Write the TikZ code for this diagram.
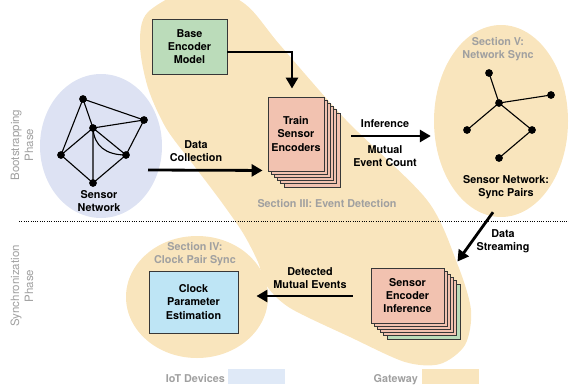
\documentclass[tikz,border=0pt]{standalone}
\usepackage{fontspec}
\setmainfont{TeX Gyre Heros}
\usetikzlibrary{calc}
\usetikzlibrary{arrows.meta}
\usetikzlibrary{shapes.geometric}

\definecolor{gatewaybg}{RGB}{249,229,189}
\definecolor{iotbg}{RGB}{221,226,243}
\definecolor{iotkey}{RGB}{223,233,247}
\definecolor{basegreen}{RGB}{187,220,186}
\definecolor{encpink}{RGB}{242,194,176}
\definecolor{clockblue}{RGB}{190,229,245}
\definecolor{secgray}{RGB}{160,160,160}
\definecolor{boxline}{RGB}{55,55,55}

\tikzset{
  lbl/.style={font=\fontsize{10.8}{13.3}\selectfont\bfseries, align=center, inner sep=0pt},
  seclbl/.style={lbl, text=secgray},
  phaselbl/.style={font=\fontsize{11.5}{14}\selectfont, text=secgray, align=center, rotate=90, inner sep=0pt},
  blk/.style={lbl, draw=boxline, line width=0.9pt},
  flow/.style={line width=2.8pt, -{Triangle[length=11pt,width=12pt]}},
  zone/.style={ellipse, inner sep=0pt},
}

\begin{document}
\begin{tikzpicture}[x=1pt, y=-1pt]
\useasboundingbox (0,0) rectangle (569,389);
\clip (0,0) rectangle (569,389);

% gateway region
\fill[gatewaybg] plot[smooth cycle] coordinates {
  (200,-14) (245,4) (280,45) (346,120) (427,200) (457,263) (471,310)
  (465,345) (440,364) (405,362) (350,337) (290,308) (266,285) (258,262)
  (243,233) (220,200) (192,163) (166,128) (148,88) (140,45) (148,12)};

\node[zone, fill=iotbg, minimum width=122pt, minimum height=144pt] (iot) at (101,146) {};
\node[zone, fill=gatewaybg, minimum width=134pt, minimum height=192pt] (sync) at (501,121) {};
\node[zone, fill=gatewaybg, minimum width=142pt, minimum height=122pt] (pair) at (197,297) {};

% phase separator
\draw[line width=1pt, dash pattern=on 1pt off 1.3pt] (19,221) -- (569,221);

\node[phaselbl] (boot) at (22,145) {Bootstrapping\\Phase};
\node[phaselbl] (synph) at (22,286) {Synchronization\\Phase};

% sensor network
\coordinate (n1) at (83,99);
\coordinate (n2) at (144,120);
\coordinate (n3) at (93,128);
\coordinate (n4) at (61,155);
\coordinate (n5) at (126,155);
\coordinate (n6) at (93,183);
\draw[line width=1.1pt] (n1) -- (n2) -- (n3) -- (n1) -- (n4) -- (n3) -- (n6) -- (n4);
\draw[line width=1.1pt] (n6) -- (n5) -- (n2);
\draw[line width=1.1pt] (n3) -- (n5);
\draw[line width=1.1pt] (n3) .. controls (94,146) and (106,155) .. (n5);
\foreach \n in {n1,n2,n3,n4,n5,n6}
  \filldraw[black] (\n) circle (3.6);
\node[lbl] (sensnet) at (99,201) {Sensor\\Network};

% sync pairs tree
\coordinate (t1) at (489,73);
\coordinate (t2) at (499,103);
\coordinate (t3) at (551,95);
\coordinate (t4) at (467,130);
\coordinate (t5) at (532,130);
\coordinate (t6) at (499,158);
\draw[line width=1.1pt] (t1) -- (t2) -- (t3);
\draw[line width=1.1pt] (t4) -- (t2) -- (t5) -- (t6);
\foreach \n in {t1,t2,t3,t4,t5,t6}
  \filldraw[black] (\n) circle (3.6);
\node[seclbl] (secv) at (498,49) {Section V:\\Network Sync};
\node[lbl] (pairs) at (506,187) {Sensor Network:\\Sync Pairs};

% blocks
\node[blk, fill=basegreen, minimum width=75pt, minimum height=55pt] (base) at (189.5,46.5) {Base\\Encoder\\Model};

\coordinate (trainc) at (296,134);
\foreach \k in {5,4,3,2,1}
  \node[blk, fill=encpink, minimum width=56pt, minimum height=74pt] at ($(trainc)+(3.2*\k,3.2*\k)$) {};
\node[blk, fill=encpink, minimum width=56pt, minimum height=74pt] (train) at (trainc) {Train\\Sensor\\Encoders};

\coordinate (inferc) at (407.5,295.5);
\foreach \k/\c in {5/basegreen,4/encpink,3/encpink,2/encpink,1/encpink}
  \node[blk, fill=\c, minimum width=73pt, minimum height=55pt] at ($(inferc)+(3.2*\k,3.2*\k)$) {};
\node[blk, fill=encpink, minimum width=73pt, minimum height=55pt] (infer) at (inferc) {Sensor\\Encoder\\Inference};

\node[blk, fill=clockblue, minimum width=89pt, minimum height=62pt] (clock) at (193.5,302) {Clock\\Parameter\\Estimation};
\node[seclbl] (seciv) at (195,254) {Section IV:\\Clock Pair Sync};
\node[seclbl] (seciii) at (327,204) {Section III: Event Detection};

% connectors
\coordinate (dc) at (148,170);
\draw[flow] ($(base.east)+(0,5.5)$) -| ($(train.north)+(-4,-8)$);
\draw[flow] (dc) -- ($(train.south west)+(-5,-1)$);
\draw[flow] ($(train.east)+(27,2)$) -- ($(sync.west)+(-3,15)$);
\draw[flow] ($(sync.south)+(-8,-5)$) -- ($(infer.north east)+(13,-6)$);
\draw[flow] ($(infer.west)+(-18,0.5)$) -- ($(clock.east)+(18,-6)$);

\node[lbl] (collect) at (196,151) {Data\\Collection};
\node[lbl] (inf) at (385,124) {Inference};
\node[lbl] (mutual) at (385,156) {Mutual\\Event Count};
\node[lbl] (stream) at (503,241) {Data\\Streaming};
\node[lbl] (detect) at (310,278) {Detected\\Mutual Events};

% legend
\node[seclbl, anchor=base east] (iotlbl) at (225,382) {IoT Devices};
\fill[iotkey] (228,369) rectangle (285,384);
\node[seclbl, anchor=base east] (gwlbl) at (418,382) {Gateway};
\fill[gatewaybg] (422,369) rectangle (479,384);

\end{tikzpicture}
\end{document}
